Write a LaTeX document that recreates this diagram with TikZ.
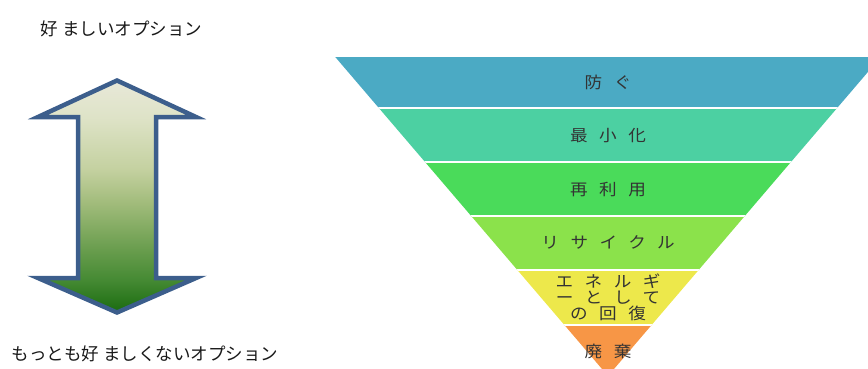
\documentclass[tikz,border=0pt]{standalone}
\usepackage{fontspec}
\usepackage{tikz}
\usetikzlibrary{positioning}
\newfontfamily\jpfont{Noto Sans CJK JP}
\newfontfamily\layerfont[LetterSpace=72, FakeStretch=1.1]{Noto Sans CJK JP}
\definecolor{arrowblue}{RGB}{60, 94, 140}
\definecolor{preventblue}{RGB}{75, 170, 196}
\definecolor{minimizeteal}{RGB}{76, 208, 162}
\definecolor{reusegreen}{RGB}{74, 219, 90}
\definecolor{recyclelime}{RGB}{139, 226, 75}
\definecolor{energyyellow}{RGB}{237, 232, 75}
\definecolor{disposeorange}{RGB}{247, 150, 70}
% arrow fill, light at the top, dark green at the bottom
\pgfdeclareverticalshading{arrowfill}{100bp}{
  rgb(0bp)=(0.10,0.42,0.06); rgb(25bp)=(0.10,0.42,0.06);
  rgb(32bp)=(0.27,0.54,0.20); rgb(39bp)=(0.42,0.62,0.31);
  rgb(49bp)=(0.64,0.74,0.49); rgb(56bp)=(0.77,0.82,0.63);
  rgb(67bp)=(0.87,0.89,0.78); rgb(75bp)=(0.91,0.91,0.85);
  rgb(100bp)=(0.91,0.91,0.85)}
\tikzset{
  optionlabel/.style={text=black!90, font=\jpfont\fontsize{17.5}{20}\selectfont, inner sep=0pt},
  layerlabel/.style={text=black!80, font=\layerfont\fontsize{16}{15.8}\selectfont, align=center, inner sep=0pt}
}
\begin{document}
\begin{tikzpicture}[x=1pt, y=-1pt]
            \useasboundingbox (0,0) rectangle (868,369);
            % double arrow on the left
            \shadedraw[draw=arrowblue, line width=4.5pt, line join=miter, shading=arrowfill]
                 (117, 80.5) -- (196,117) -- (156,117) -- (156,278) -- (196,278) -- (117,312.5)
                 -- ( 38,278) -- ( 78,278) -- ( 78,117) -- ( 38,117) -- cycle;
            \node[optionlabel] (best)  at (121.5, 29.0) {好 ましいオプション};
            \node[optionlabel] (worst) at (145.0,354.0) {もっとも好 ましくないオプション};
            % inverted pyramid
            \begin{scope}
                 \clip (335,56.7) -- (881,56.7) -- (608,376) -- cycle;
                 \fill[preventblue]   (300, 56.7) rectangle (900,108.3);
                 \fill[minimizeteal]  (300,108.3) rectangle (900,162.0);
                 \fill[reusegreen]    (300,162.0) rectangle (900,216.3);
                 \fill[recyclelime]   (300,216.3) rectangle (900,270.3);
                 \fill[energyyellow]  (300,270.3) rectangle (900,324.7);
                 \fill[disposeorange] (300,324.7) rectangle (900,380.0);
                 \foreach \y in {108.3,162.0,216.3,270.3,324.7}
                      \draw[white, line width=2pt] (300,\y) -- (900,\y);
            \end{scope}
            \node[layerlabel] (prevent)  at (608, 82.0) {防ぐ};
            \node[layerlabel] (minimize) at (608,136.0) {最小化};
            \node[layerlabel] (reuse)    at (608,190.0) {再利用};
            \node[layerlabel] (recycle)  at (608,242.5) {リサイクル};
            \node[layerlabel] (energy)   at (608,297.5) {エネルギ\\ーとして\\の回復};
            \node[layerlabel] (dispose)  at (608,351.5) {廃棄};
        \end{tikzpicture}
\end{document}
